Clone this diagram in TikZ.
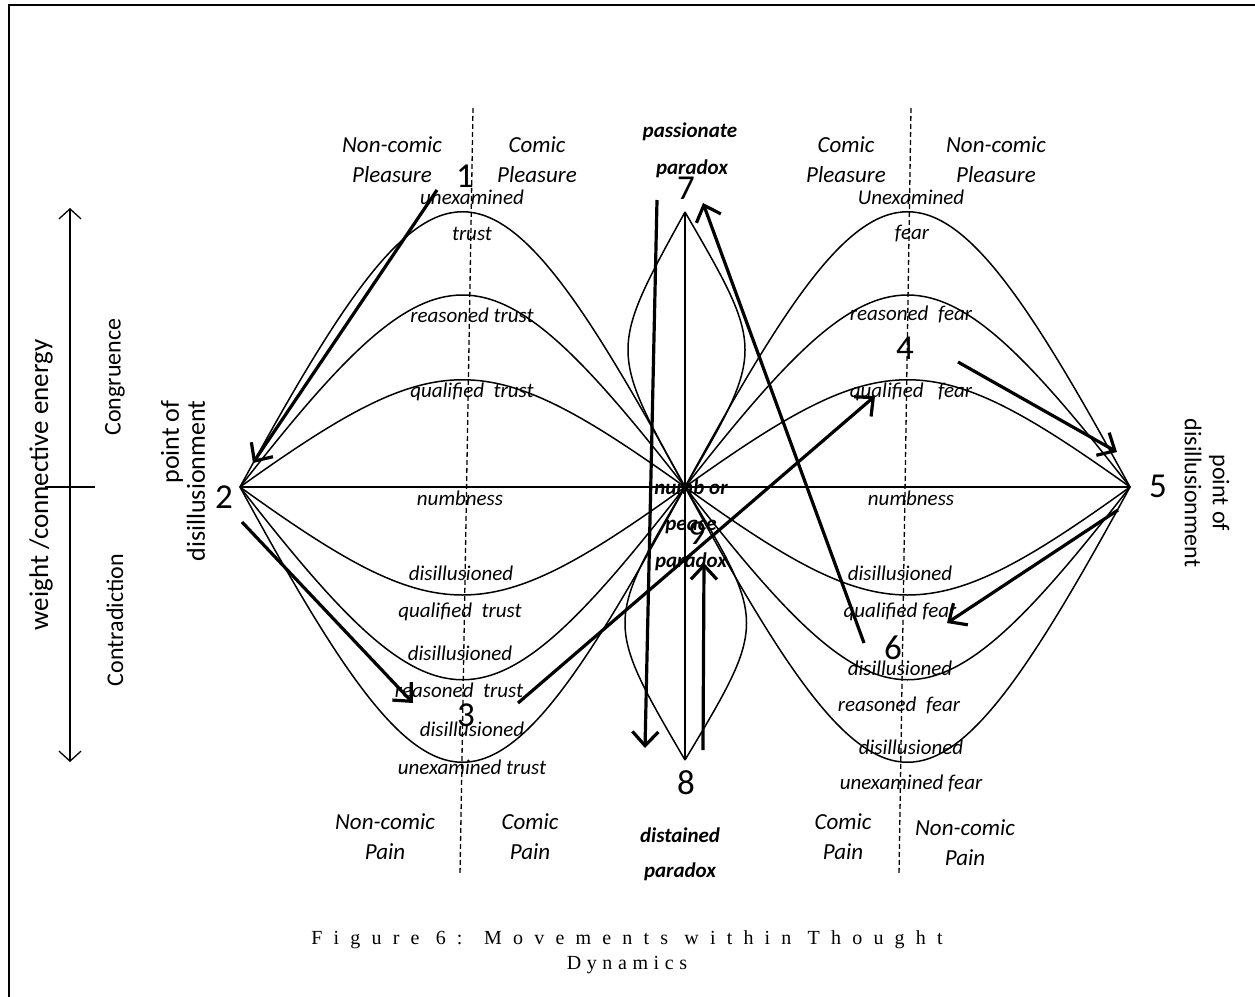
\documentclass[tikz,border=0pt]{standalone}
\usepackage{fontspec}
\setmainfont{Carlito}
\newfontfamily\capfontA[LetterSpace=56]{Liberation Serif}
\newfontfamily\capfontB[LetterSpace=28]{Liberation Serif}
\usetikzlibrary{arrows.meta}
\begin{document}
\begin{tikzpicture}[x=1pt,y=-1pt,
  thinline/.style={line width=1.5pt},
  guide/.style={line width=1.3pt, dash pattern=on 5pt off 3pt},
  move/.style={line width=3.2pt, -{Straight Barb[length=14pt,width=26pt]}},
  lab/.style={font=\fontsize{21}{24}\selectfont\itshape, inner sep=0pt},
  reg/.style={font=\fontsize{23}{30}\selectfont\itshape, align=center, inner sep=0pt},
  parlab/.style={font=\fontsize{21}{24}\selectfont\bfseries\itshape, inner sep=0pt},
  num/.style={font=\fontsize{35}{35}\selectfont, inner sep=0pt},
  side/.style={font=\fontsize{24}{28}\selectfont, inner sep=0pt},
]
\useasboundingbox (0,0) rectangle (1255,996);
\clip (0,0) rectangle (1255,996);
\fill[white] (0,0) rectangle (1255,996);
% frame
\draw[line width=1.2pt] (9,1010) -- (9,5) -- (1270,5);

% key points
\coordinate (P2) at (240,487);
\coordinate (C) at (685,487);
\coordinate (P5) at (1130,487);
\coordinate (T) at (685,212);
\coordinate (B) at (685,760);

% dashed guides
\draw[guide] (473,108) -- (460,875);
\draw[guide] (911,108) -- (899,875);

% horizontal and vertical axes
\draw[thinline] (P2) -- (P5);
\draw[thinline] (T) -- (B);

% left fan
\draw[thinline] (P2) .. controls (440,120) and (485,120) .. (C);
\draw[thinline] (P2) .. controls (440,231) and (485,231) .. (C);
\draw[thinline] (P2) .. controls (440,344) and (485,344) .. (C);
\draw[thinline] (P2) .. controls (440,631) and (485,631) .. (C);
\draw[thinline] (P2) .. controls (440,744) and (485,744) .. (C);
\draw[thinline] (P2) .. controls (440,854) and (485,854) .. (C);
% right fan
\draw[thinline] (C) .. controls (885,120) and (930,120) .. (P5);
\draw[thinline] (C) .. controls (885,231) and (930,231) .. (P5);
\draw[thinline] (C) .. controls (885,344) and (930,344) .. (P5);
\draw[thinline] (C) .. controls (885,631) and (930,631) .. (P5);
\draw[thinline] (C) .. controls (885,744) and (930,744) .. (P5);
\draw[thinline] (C) .. controls (885,854) and (930,854) .. (P5);
% central lenses
\draw[thinline] (C) .. controls (609,350) .. (T);
\draw[thinline] (C) .. controls (765,350) .. (T);
\draw[thinline] (C) .. controls (605,623) .. (B);
\draw[thinline] (C) .. controls (767,623) .. (B);

% left axis
\coordinate (ax1) at (70,208);
\coordinate (ax2) at (70,762);
\draw[line width=1.3pt, {Straight Barb[length=10pt,width=22pt]}-{Straight Barb[length=10pt,width=22pt]}] (ax1) -- (ax2);
\coordinate (tk1) at (45,487);
\coordinate (tk2) at (95,487);
\draw[line width=1.3pt] (tk1) -- (tk2);
\node[side, rotate=90, font=\fontsize{27}{30}\selectfont] (wce) at (41,485) {weight /connective energy};
\node[side, rotate=90] (cong) at (115,377) {Congruence};
\node[side, rotate=90] (contr) at (115,620) {Contradiction};
\node[side, rotate=90, align=right, font=\fontsize{26}{26}\selectfont] (pdl) at (183,481) {point of\\disillusionment};
\node[side, rotate=-90, align=center] (pdr) at (1207,493) {point of\\disillusionment};

% region labels
\node[reg] (ncpl) at (392,160) {Non-comic\\Pleasure};
\node[reg] (cpl) at (537,160) {Comic\\Pleasure};
\node[reg] (cpr) at (846,160) {Comic\\Pleasure};
\node[reg] (ncpr) at (996,160) {Non-comic\\Pleasure};
\node[reg] (ncpal) at (385,837) {Non-comic\\Pain};
\node[reg] (cpal) at (530,837) {Comic\\Pain};
\node[reg] (cpar) at (843,837) {Comic\\Pain};
\node[reg] (ncpar) at (965,843) {Non-comic\\Pain};

% paradox labels
\node[parlab] (pa1) at (690,132) {passionate};
\node[parlab] (pa2) at (692,169) {paradox};
\node[parlab] (di1) at (680,835) {distained};
\node[parlab] (di2) at (680,872) {paradox};
\node[parlab] (nu1) at (691,487) {numb or};
\node[parlab] (nu2) at (691,527) {peace};
\node[parlab] (nu3) at (691,562) {paradox};

% left curve labels
\node[lab] (l1) at (472,197) {unexamined};
\node[lab] (l2) at (472,234) {trust};
\node[lab] (l3) at (472,315) {reasoned trust};
\node[lab] (l4) at (472,392) {qualified\ \ trust};
\node[lab] (l5) at (460,498) {numbness};
\node[lab] (l6) at (461,573) {disillusioned};
\node[lab] (l7) at (460,612) {qualified\ \ trust};
\node[lab] (l8) at (460,653) {disillusioned};
\node[lab] (l9) at (459,690) {reasoned\ \ trust};
\node[lab] (l10) at (472,729) {disillusioned};
\node[lab] (l11) at (472,767) {unexamined trust};
% right curve labels
\node[lab] (r1) at (911,197) {Unexamined};
\node[lab] (r2) at (912,234) {fear};
\node[lab] (r3) at (911,314) {reasoned\ \ fear};
\node[lab] (r4) at (911,392) {qualified\ \ \ fear};
\node[lab] (r5) at (911,498) {numbness};
\node[lab] (r6) at (900,573) {disillusioned};
\node[lab] (r7) at (900,612) {qualified fear};
\node[lab] (r8) at (900,668) {disillusioned};
\node[lab] (r9) at (899,705) {reasoned\ \ fear};
\node[lab] (r10) at (911,747) {disillusioned};
\node[lab] (r11) at (911,783) {unexamined fear};

% numbers
\node[num] (n1) at (465,176) {1};
\node[num] (n2) at (224,497) {2};
\node[num] (n3) at (466,715) {3};
\node[num] (n4) at (905,348) {4};
\node[num] (n5) at (1158,486) {5};
\node[num] (n6) at (893,648) {6};
\node[num] (n7) at (686,188) {7};
\node[num] (n8) at (686,783) {8};
\node[num] (n9) at (697,533) {9};

% movement arrows
\coordinate (m1s) at (437,190); \coordinate (m1e) at (253,463);
\coordinate (m2s) at (242,522); \coordinate (m2e) at (413,703);
\coordinate (m3s) at (518,703); \coordinate (m3e) at (875,396);
\coordinate (m4s) at (958,362); \coordinate (m4e) at (1117,452);
\coordinate (m5s) at (1118,510); \coordinate (m5e) at (947,623);
\coordinate (m6s) at (864,643); \coordinate (m6e) at (703,203);
\coordinate (m7s) at (657,200); \coordinate (m7e) at (645,748);
\coordinate (m8s) at (703,750); \coordinate (m8e) at (704,563);
\draw[move] (m1s) -- (m1e);
\draw[move] (m2s) -- (m2e);
\draw[move] (m3s) -- (m3e);
\draw[move] (m4s) -- (m4e);
\draw[move] (m5s) -- (m5e);
\draw[move] (m6s) -- (m6e);
\draw[move] (m7s) -- (m7e);
\draw[move] (m8s) -- (m8e);

% caption
\node[font=\fontsize{20}{25}\selectfont, align=center, inner sep=0pt] (cap) at (627,952) {{\capfontA Figure 6: Movements within Thought}\\{\capfontB Dynamics}};
\end{tikzpicture}
\end{document}
